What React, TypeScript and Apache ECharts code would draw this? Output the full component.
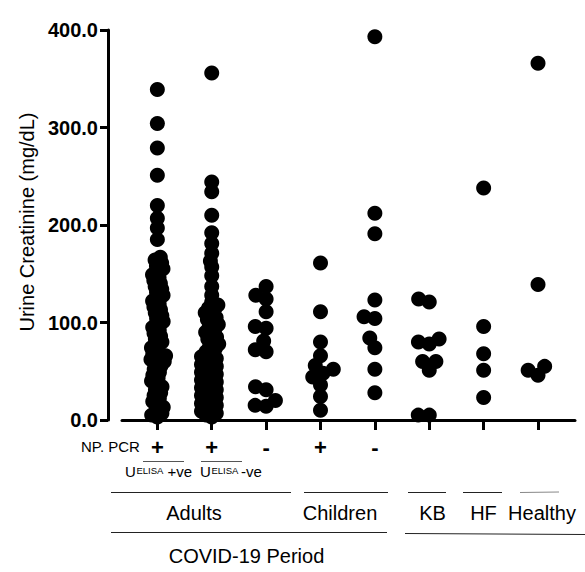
import React, { useEffect, useRef } from "react";
import * as echarts from "echarts";

// ---- data (mg/dL) ----
const adultsPosVe = [
  339, 304, 279, 251, 220, 207, 197, 185,
  167, 164, 161, 158, 155, 152, 149, 146, 143, 140, 137, 134, 131, 128, 125, 122,
  119, 116, 113, 110, 107, 104, 101, 98, 95, 92, 89, 86, 83, 80, 77, 74, 71, 68,
  66, 64, 62, 60, 58, 55, 52, 49, 46, 43, 40, 37, 34, 31, 28, 25, 22, 19, 16,
  13, 10, 7, 5, 3,
];
const adultsPosNeg = [
  356, 244, 234, 210, 192, 181, 171, 163, 157, 148, 137, 128, 121,
  118, 115, 113, 110, 108, 105, 103, 100, 98, 95, 93, 90, 88, 85, 83, 80, 78, 75,
  73, 70, 68, 65, 63, 61,
  59, 57, 55, 53, 51, 49, 47, 45, 43, 41, 39, 37, 35, 33, 31, 29,
  27, 25, 23, 21, 19, 17, 15, 13, 11, 9, 7, 5, 3,
];
const adultsNeg = [137, 128, 124, 111, 96, 94, 81, 72, 70, 34, 31, 20, 15, 14];
const childrenPos = [161, 111, 80, 66, 56, 52, 48, 44, 36, 24, 10];
const childrenNeg = [393, 212, 191, 123, 106, 104, 84, 74, 52, 28];
const kb = [124, 121, 83, 80, 78, 60, 60, 51, 5, 5];
const hf = [238, 96, 68, 51, 23];
const healthy = [366, 139, 55, 51, 46];

const groups = [adultsPosVe, adultsPosNeg, adultsNeg, childrenPos, childrenNeg, kb, hf, healthy];
const pcrSymbols = ["+", "+", "-", "+", "-"];
const yTicks = [0, 100, 200, 300, 400];

const FONT = "'Liberation Sans', Arial, Helvetica, sans-serif";

// layout constants
const GRID = { left: 122, right: 10, top: 30, bottom: 152 };
const W = 585, H = 572;
const X_MIN = 0.35, X_MAX = 8.68;
const PX_X = (W - GRID.left - GRID.right) / (X_MAX - X_MIN);
const PX_Y = (H - GRID.top - GRID.bottom) / 400;

function swarm(values: number[], center: number, D: number): number[][] {
  const sorted = [...values].sort((a, b) => a - b);
  const placed: { x: number; y: number }[] = [];
  const out: number[][] = [];
  for (const v of sorted) {
    const y = v * PX_Y;
    const near = placed.filter((q) => Math.abs(q.y - y) < D);
    const cands = [0];
    for (const q of near) {
      const dx = Math.sqrt(D * D - (q.y - y) * (q.y - y));
      cands.push(q.x + dx, q.x - dx);
    }
    cands.sort((a, b) => Math.abs(a) - Math.abs(b) || a - b);
    let x = 0;
    for (const c of cands) {
      if (near.every((q) => (q.x - c) ** 2 + (q.y - y) ** 2 >= D * D - 0.01)) {
        x = c;
        break;
      }
    }
    placed.push({ x, y });
    out.push([center + x / PX_X, v]);
  }
  return out;
}

export default function App() {
  const ref = useRef<HTMLDivElement>(null);
  useEffect(() => {
    if (!ref.current) return;
    const chart = echarts.init(ref.current, null, { renderer: "svg" });
    const data: number[][] = [];
    groups.forEach((g, i) => data.push(...swarm(g, i + 1, g.length > 30 ? 6 : 11)));

    const t = (text: string, x: number, y: number, size: number, extra: any = {}) => ({
      type: "text",
      x,
      y,
      style: { text, fontSize: size, fontFamily: FONT, fill: "#000", align: "center", verticalAlign: "middle", ...extra },
    });
    const ln = (x1: number, y1: number, x2: number, y2: number, stroke = "#222") => ({
      type: "line",
      shape: { x1, y1, x2, y2 },
      style: { stroke, lineWidth: 1 },
    });

    chart.setOption({
      animation: false,
      backgroundColor: "#fff",
      grid: GRID,
      xAxis: {
        type: "value",
        min: X_MIN,
        max: X_MAX,
        splitLine: { show: false },
        axisLine: { show: true, lineStyle: { color: "#000", width: 3 } },
        axisTick: {
          show: true,
          customValues: [1, 2, 3, 4, 5, 6, 7, 8],
          length: 10,
          lineStyle: { color: "#000", width: 3 },
        },
        axisLabel: {
          customValues: [1, 2, 3, 4, 5],
          formatter: (v: number) => pcrSymbols[Math.round(v) - 1] ?? "",
          fontSize: 22,
          fontWeight: "bold",
          fontFamily: FONT,
          color: "#000",
          margin: 16,
        },
      },
      yAxis: {
        type: "value",
        min: 0,
        max: 400,
        interval: 100,
        offset: 14,
        splitLine: { show: false },
        axisLine: { show: true, lineStyle: { color: "#000", width: 3 } },
        axisTick: { show: true, length: 8, lineStyle: { color: "#000", width: 3 } },
        axisLabel: {
          formatter: (v: number) => (yTicks.includes(v) ? v.toFixed(1) : ""),
          fontSize: 20,
          fontWeight: "bold",
          fontFamily: FONT,
          color: "#000",
          margin: 10,
        },
      },
      series: [
        {
          type: "scatter",
          data,
          symbol: "circle",
          symbolSize: 15,
          itemStyle: { color: "#000", opacity: 1 },
        },
      ],
      graphic: [
        { ...t("Urine Creatinine (mg/dL)", 27, 222, 20), rotation: Math.PI / 2 },
        t("NP. PCR", 81, 446, 15, { align: "left" }),
        t("U", 125, 471, 15, { align: "left" }),
        t("ELISA", 136.5, 465, 9.5, { align: "left", verticalAlign: "top" }),
        t("+ve", 167.5, 471, 15, { align: "left" }),
        ln(143, 461.5, 184, 461.5, "#555"),
        t("U", 200, 471, 15, { align: "left" }),
        t("ELISA", 211.5, 465, 9.5, { align: "left", verticalAlign: "top" }),
        t("-ve", 241, 471, 15, { align: "left" }),
        ln(201, 461.5, 242, 461.5, "#555"),
        ln(111, 492.5, 291, 492.5),
        ln(304, 492.5, 388, 492.5),
        ln(408, 492.5, 446, 492.5),
        ln(463, 492.5, 502, 492.5),
        ln(520, 492.5, 559, 492, "#888"),
        t("Adults", 194, 513, 20),
        t("Children", 340, 513, 20),
        t("KB", 432.5, 513, 20),
        t("HF", 483.5, 513, 20),
        t("Healthy", 542, 513, 20),
        ln(111, 532.5, 387, 532.5),
        ln(405, 533.5, 585, 534.5),
        t("COVID-19 Period", 246.5, 556, 20),
      ],
    });
    return () => chart.dispose();
  }, []);
  return (
    <div
      ref={ref}
      style={{ position: "fixed", left: 0, top: 0, width: W, height: H }}
    />
  );
}
